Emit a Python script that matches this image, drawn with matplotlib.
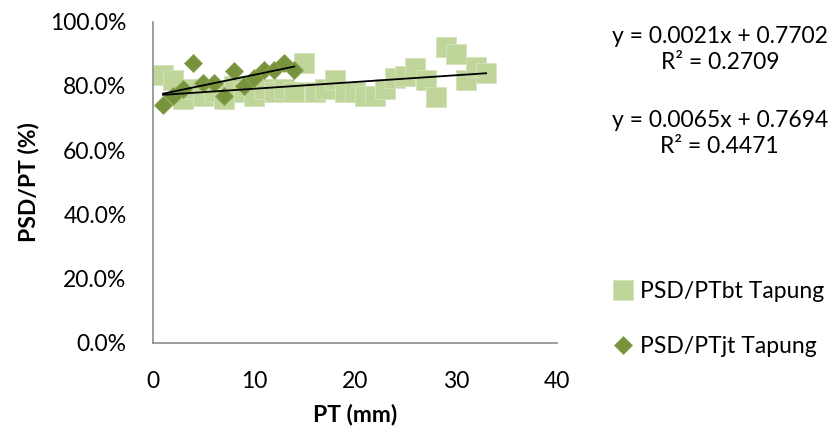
import numpy as np
import matplotlib
matplotlib.use("Agg")
import matplotlib.pyplot as plt
from matplotlib.ticker import FuncFormatter

plt.rcParams['font.family'] = ['Lato', 'DejaVu Sans']

# PSD/PTbt Tapung
bt_x = list(range(1, 34))
bt_y = [83.5, 82.0, 76.0, 79.0, 77.0, 78.0, 76.0, 80.0, 78.0, 77.0, 79.0,
        78.0, 79.0, 78.0, 87.0, 78.0, 79.0, 82.0, 78.0, 78.0, 77.0, 77.0,
        79.0, 82.5, 83.0, 85.5, 82.0, 76.5, 92.0, 90.0, 82.0, 86.0, 84.0]

# PSD/PTjt Tapung
jt_x = list(range(1, 15))
jt_y = [74.0, 77.0, 79.0, 87.0, 81.0, 81.0, 77.0, 84.5, 80.0, 82.5, 85.0,
        85.0, 87.0, 85.0]

# trend lines as printed on the chart
bt_slope, bt_icpt, bt_r2 = 0.0021, 0.7702, 0.2709
jt_slope, jt_icpt, jt_r2 = 0.0065, 0.7694, 0.4471

fs = 16.5

fig = plt.figure(figsize=(8.36, 4.34), dpi=100)
ax = fig.add_axes([0.183, 0.21, 0.483, 0.74])

ax.plot(bt_x, bt_y, linestyle='none', marker='s', markersize=14,
        color='#C0D59A', markeredgecolor='#D4E3BC', markeredgewidth=0.6,
        label='PSD/PTbt Tapung', zorder=2)
ax.plot(jt_x, jt_y, linestyle='none', marker='D', markersize=9.5,
        color='#77933C', markeredgecolor='#8AA652', markeredgewidth=0.6,
        label='PSD/PTjt Tapung', zorder=3)

xb = np.array([min(bt_x), max(bt_x)])
ax.plot(xb, (bt_slope * xb + bt_icpt) * 100, color='black', lw=1.3, zorder=4)
xj = np.array([min(jt_x), max(jt_x)])
ax.plot(xj, (jt_slope * xj + jt_icpt) * 100, color='black', lw=1.3, zorder=4)

ax.set_xlim(0, 40)
ax.set_ylim(0, 100)
ax.set_xticks([0, 10, 20, 30, 40])
ax.set_yticks([0, 20, 40, 60, 80, 100])
ax.yaxis.set_major_formatter(FuncFormatter(lambda v, p: f"{v:.1f}%"))
ax.tick_params(length=0, labelsize=fs)
ax.tick_params(axis='y', pad=19)
ax.tick_params(axis='x', pad=20)

for s in ['top', 'right']:
    ax.spines[s].set_visible(False)
for s in ['left', 'bottom']:
    ax.spines[s].set_color('#8C8C8C')
    ax.spines[s].set_linewidth(1.2)

ax.set_xlabel('PT (mm)', fontsize=fs, fontweight='bold', labelpad=9)
ax.set_ylabel('PSD/PT (%)', fontsize=fs, fontweight='bold', labelpad=8)

tx = 0.861
fig.text(tx, 0.917, f"y = {bt_slope:.4f}x + {bt_icpt:.4f}", ha='center', va='center', fontsize=fs)
fig.text(tx, 0.855, f"R² = {bt_r2:.4f}", ha='center', va='center', fontsize=fs)
fig.text(tx, 0.723, f"y = {jt_slope:.4f}x + {jt_icpt:.4f}", ha='center', va='center', fontsize=fs)
fig.text(tx, 0.663, f"R² = {jt_r2:.4f}", ha='center', va='center', fontsize=fs)

leg = fig.legend(loc='center left', bbox_to_anchor=(0.733, 0.265), frameon=False,
                 fontsize=fs, handletextpad=0.3, labelspacing=1.5,
                 handlelength=0.9, borderpad=0, borderaxespad=0, markerscale=1.0)

fig.savefig('out.png', dpi=100)
